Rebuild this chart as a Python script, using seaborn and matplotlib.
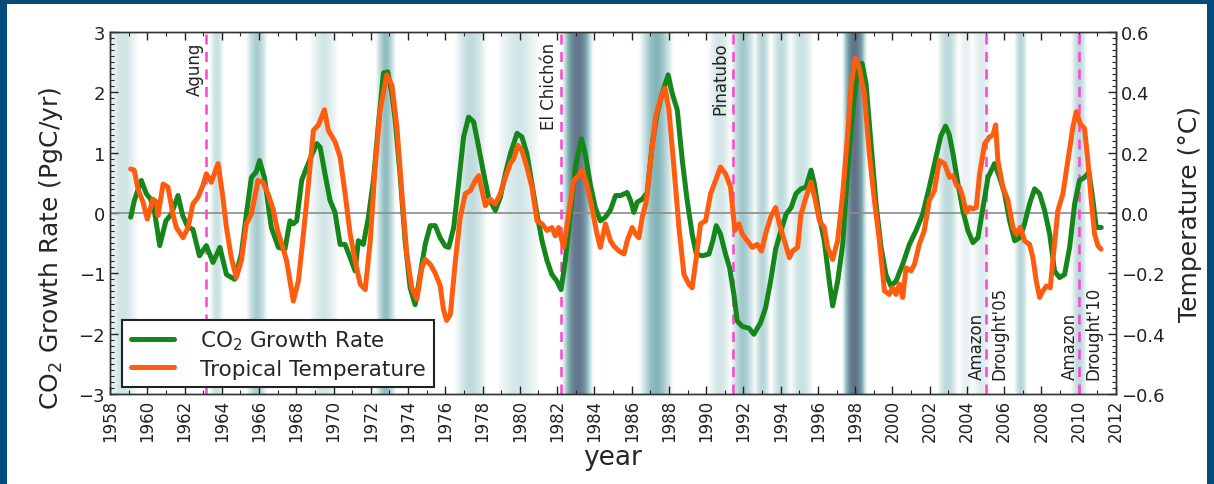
import numpy as np
import pandas as pd
import matplotlib
matplotlib.use("Agg")
import matplotlib.pyplot as plt
import seaborn as sns
from matplotlib.colors import LinearSegmentedColormap
from matplotlib.patches import Rectangle
from matplotlib.ticker import MultipleLocator
from matplotlib.lines import Line2D
import matplotlib.transforms as mtransforms

# ---------------- data ----------------
co2_years = [1959.11, 1959.3, 1959.68, 1959.95, 1960.18, 1960.4, 1960.67, 1961.0, 1961.29, 1961.65,
             1961.9, 1962.19, 1962.45, 1962.8, 1963.17, 1963.53, 1963.9, 1964.25, 1964.69, 1965.05,
             1965.32, 1965.59, 1965.85, 1966.03, 1966.3, 1966.66, 1967.04, 1967.39, 1967.66, 1967.84,
             1968.02, 1968.29, 1968.56, 1968.83, 1969.1, 1969.28, 1969.54, 1969.81, 1970.08, 1970.35,
             1970.62, 1970.89, 1971.16, 1971.33, 1971.6, 1971.87, 1972.14, 1972.41, 1972.68, 1972.91,
             1973.13, 1973.31, 1973.58, 1973.84, 1974.11, 1974.38, 1974.65, 1974.92, 1975.19, 1975.46,
             1975.72, 1976.0, 1976.18, 1976.45, 1976.71, 1976.98, 1977.25, 1977.52, 1977.79, 1978.06,
             1978.32, 1978.68, 1978.95, 1979.22, 1979.49, 1979.85, 1980.11, 1980.38, 1980.65, 1980.92,
             1981.19, 1981.46, 1981.72, 1981.99, 1982.21, 1982.44, 1982.71, 1982.98, 1983.3, 1983.51,
             1983.78, 1984.05, 1984.32, 1984.59, 1984.86, 1985.14, 1985.41, 1985.76, 1985.94, 1986.12,
             1986.3, 1986.57, 1986.84, 1987.11, 1987.37, 1987.64, 1987.96, 1988.18, 1988.45, 1988.72,
             1988.98, 1989.25, 1989.47, 1989.79, 1990.15, 1990.36, 1990.54, 1990.77, 1991.04, 1991.26,
             1991.49, 1991.67, 1991.94, 1992.3, 1992.56, 1992.92, 1993.19, 1993.46, 1993.73, 1994.02,
             1994.29, 1994.56, 1994.82, 1995.09, 1995.36, 1995.63, 1995.81, 1996.08, 1996.34, 1996.61,
             1996.79, 1997.06, 1997.33, 1997.6, 1997.87, 1998.13, 1998.37, 1998.58, 1998.85, 1999.12,
             1999.39, 1999.65, 1999.92, 2000.19, 2000.55, 2000.91, 2001.27, 2001.62, 2001.98, 2002.34,
             2002.6, 2002.85, 2003.05, 2003.25, 2003.52, 2003.78, 2004.05, 2004.32, 2004.59, 2004.86,
             2005.13, 2005.48, 2005.75, 2006.02, 2006.29, 2006.56, 2006.83, 2007.09, 2007.36, 2007.63,
             2007.9, 2008.17, 2008.44, 2008.7, 2008.97, 2009.24, 2009.51, 2009.78, 2010.04, 2010.31,
             2010.55, 2010.76, 2010.94, 2011.21]
co2_rate = [-0.07, 0.2, 0.54, 0.32, 0.23, 0.0, -0.54, -0.13, -0.02, 0.29,
            -0.04, -0.24, -0.27, -0.71, -0.54, -0.82, -0.57, -1.02, -1.10, -0.68,
            -0.02, 0.59, 0.68, 0.87, 0.57, -0.24, -0.57, -0.60, -0.13, -0.18,
            -0.13, 0.54, 0.76, 0.96, 1.15, 1.09, 0.65, 0.21, 0.01, -0.52,
            -0.52, -0.74, -0.96, -0.46, -0.52, -0.07, 0.54, 1.48, 2.32, 2.34,
            1.98, 1.54, 0.59, -0.46, -1.24, -1.52, -1.02, -0.52, -0.21, -0.21,
            -0.41, -0.55, -0.57, -0.24, 0.48, 1.26, 1.59, 1.51, 1.09, 0.65,
            0.26, 0.04, 0.26, 0.65, 0.98, 1.32, 1.26, 0.98, 0.48, -0.02,
            -0.46, -0.79, -1.02, -1.13, -1.27, -0.79, -0.02, 0.76, 1.23, 0.98,
            0.48, 0.09, -0.13, -0.07, 0.05, 0.29, 0.29, 0.34, 0.21, 0.01,
            0.18, 0.23, 0.34, 1.15, 1.65, 1.98, 2.29, 1.98, 1.71, 0.87,
            0.21, -0.35, -0.68, -0.71, -0.68, -0.46, -0.21, -0.35, -0.68, -0.91,
            -1.35, -1.79, -1.88, -1.91, -2.01, -1.82, -1.57, -1.13, -0.60, -0.29,
            -0.02, 0.09, 0.32, 0.40, 0.43, 0.71, 0.48, -0.07, -0.46, -1.13,
            -1.54, -1.13, -0.52, 0.71, 1.71, 2.37, 2.48, 2.15, 1.15, 0.15,
            -0.57, -1.02, -1.21, -1.13, -0.85, -0.52, -0.29, -0.02, 0.43, 0.93,
            1.28, 1.44, 1.30, 0.98, 0.48, 0.04, -0.29, -0.49, -0.41, 0.09,
            0.59, 0.82, 0.59, 0.32, -0.13, -0.46, -0.41, -0.18, 0.15, 0.40,
            0.32, 0.04, -0.35, -0.96, -1.07, -1.02, -0.57, 0.15, 0.54, 0.59,
            0.68, 0.21, -0.24, -0.24]

temp_years = [1959.11, 1959.3, 1959.5, 1959.77, 1960.0, 1960.31, 1960.5, 1960.58, 1960.85, 1961.11,
              1961.38, 1961.56, 1961.92, 1962.19, 1962.45, 1962.72, 1962.99, 1963.17, 1963.44, 1963.8,
              1964.06, 1964.25, 1964.51, 1964.78, 1965.05, 1965.32, 1965.59, 1965.94, 1966.21, 1966.48,
              1966.75, 1967.0, 1967.12, 1967.48, 1967.84, 1968.11, 1968.38, 1968.65, 1968.92, 1969.19,
              1969.51, 1969.72, 1970.08, 1970.35, 1970.62, 1970.89, 1971.16, 1971.43, 1971.7, 1971.97,
              1972.23, 1972.5, 1972.86, 1973.13, 1973.4, 1973.67, 1973.93, 1974.2, 1974.47, 1974.74,
              1974.92, 1975.19, 1975.46, 1975.72, 1975.9, 1976.07, 1976.27, 1976.54, 1976.8, 1977.07,
              1977.34, 1977.61, 1977.79, 1977.97, 1978.15, 1978.41, 1978.68, 1978.95, 1979.22, 1979.49,
              1979.67, 1979.9, 1980.11, 1980.38, 1980.65, 1980.92, 1981.19, 1981.46, 1981.72, 1981.9,
              1982.08, 1982.35, 1982.62, 1982.89, 1983.16, 1983.33, 1983.6, 1983.87, 1984.14, 1984.32,
              1984.59, 1984.86, 1985.05, 1985.32, 1985.59, 1985.76, 1986.03, 1986.21, 1986.39, 1986.57,
              1986.78, 1987.02, 1987.29, 1987.55, 1987.79, 1988.0, 1988.27, 1988.54, 1988.81, 1989.07,
              1989.25, 1989.47, 1989.7, 1989.97, 1990.24, 1990.51, 1990.77, 1991.04, 1991.31, 1991.54,
              1991.76, 1991.94, 1992.21, 1992.48, 1992.74, 1992.97, 1993.19, 1993.46, 1993.73, 1993.93,
              1994.2, 1994.47, 1994.64, 1994.91, 1995.09, 1995.36, 1995.63, 1995.86, 1996.08, 1996.34,
              1996.52, 1996.79, 1997.06, 1997.33, 1997.6, 1997.78, 1998.01, 1998.22, 1998.49, 1998.76,
              1999.03, 1999.3, 1999.57, 1999.83, 2000.01, 2000.19, 2000.37, 2000.55, 2000.73, 2001.0,
              2001.18, 2001.44, 2001.71, 2001.98, 2002.25, 2002.52, 2002.79, 2003.07, 2003.25, 2003.43,
              2003.6, 2003.78, 2003.96, 2004.14, 2004.32, 2004.5, 2004.68, 2004.95, 2005.21, 2005.39,
              2005.54, 2005.66, 2005.93, 2006.2, 2006.47, 2006.65, 2006.86, 2007.09, 2007.36, 2007.54,
              2007.72, 2007.9, 2008.08, 2008.26, 2008.47, 2008.61, 2008.88, 2009.15, 2009.42, 2009.69,
              2009.87, 2010.08, 2010.31, 2010.49, 2010.67, 2010.85, 2011.03, 2011.2]
temp_anom = [0.146, 0.142, 0.08, 0.036, -0.02, 0.046, 0.036, -0.008, 0.096, 0.086,
             -0.004, -0.048, -0.082, -0.048, 0.03, 0.052, 0.092, 0.13, 0.102, 0.164,
             0.052, -0.048, -0.148, -0.214, -0.158, -0.036, -0.004, 0.108, 0.102, 0.064,
             0.014, -0.06, -0.082, -0.158, -0.292, -0.226, -0.07, 0.096, 0.274, 0.292,
             0.342, 0.274, 0.236, 0.186, 0.064, -0.07, -0.158, -0.236, -0.254, -0.092,
             0.152, 0.342, 0.458, 0.424, 0.286, 0.064, -0.136, -0.248, -0.286, -0.182,
             -0.154, -0.17, -0.2, -0.24, -0.32, -0.356, -0.336, -0.158, -0.014, 0.064,
             0.074, 0.108, 0.124, 0.074, 0.024, 0.046, 0.03, 0.064, 0.118, 0.164,
             0.18, 0.224, 0.208, 0.152, 0.086, -0.026, -0.036, -0.058, -0.048, -0.076,
             -0.048, -0.114, -0.004, 0.108, 0.124, 0.142, 0.096, 0.018, -0.07, -0.114,
             -0.036, -0.092, -0.11, -0.126, -0.136, -0.092, -0.048, -0.07, -0.082, -0.014,
             0.036, 0.174, 0.318, 0.38, 0.414, 0.342, 0.152, -0.048, -0.204, -0.236,
             -0.248, -0.148, -0.036, -0.026, 0.064, 0.108, 0.152, 0.13, 0.086, -0.058,
             -0.036, -0.07, -0.092, -0.114, -0.104, -0.126, -0.07, -0.014, 0.018, -0.036,
             -0.092, -0.148, -0.126, -0.114, -0.004, 0.052, 0.102, 0.042, -0.026, -0.048,
             -0.114, -0.154, -0.092, 0.064, 0.264, 0.42, 0.514, 0.48, 0.396, 0.196,
             0.042, -0.092, -0.258, -0.27, -0.248, -0.27, -0.236, -0.28, -0.182, -0.192,
             -0.17, -0.104, -0.058, 0.042, 0.074, 0.174, 0.164, 0.118, 0.124, 0.092,
             0.086, 0.052, 0.002, 0.018, 0.014, 0.018, 0.13, 0.23, 0.252, 0.258,
             0.292, 0.174, 0.086, 0.042, -0.048, -0.07, -0.048, -0.092, -0.104, -0.148,
             -0.226, -0.28, -0.258, -0.242, -0.248, -0.158, 0.008, 0.064, 0.174, 0.286,
             0.336, 0.296, 0.28, 0.174, 0.042, -0.07, -0.108, -0.12]

event_labels = ["Agung", "El Chichón", "Pinatubo", "Amazon\nDrought'05", "Amazon\nDrought'10"]
event_years = [1963.17, 1982.22, 1991.42, 2005.0, 2010.0]

# El Nino shading periods (start, end, relative strength)
enso_start = [1957.9, 1963.35, 1965.3, 1968.7, 1972.25, 1976.5, 1978.8, 1982.25, 1986.4, 1990.1,
              1991.3, 1992.6, 1993.5, 1994.5, 1997.3, 2002.4, 2003.6, 2004.3, 2006.55, 2009.6]
enso_end = [1959.5, 1964.1, 1966.45, 1970.25, 1973.35, 1978.25, 1981.05, 1983.95, 1988.25, 1991.35,
            1992.65, 1993.45, 1994.55, 1995.75, 1998.65, 2003.55, 2004.3, 2005.3, 2007.25, 2010.45]
enso_strength = [0.32, 0.35, 0.5, 0.3, 0.58, 0.4, 0.3, 0.97, 0.62, 0.3,
                 0.52, 0.45, 0.4, 0.35, 1.0, 0.42, 0.2, 0.25, 0.45, 0.42]

# ---------------- style ----------------
sns.set_style("ticks")
plt.rcParams['font.family'] = ['DejaVu Sans']
plt.rcParams['axes.linewidth'] = 1.0

W, H = 1214, 485
fig = plt.figure(figsize=(W / 100, H / 100), dpi=100, facecolor='#024b7a')
fig.add_artist(Rectangle((7 / W, 0), (W - 14) / W, (H - 5) / H, transform=fig.transFigure,
                         facecolor='white', edgecolor='none', zorder=-10))

ax = fig.add_axes([110 / W, 90 / H, 1006 / W, 362 / H])
ax.set_facecolor('white')

# shaded ENSO bands as a smooth horizontal intensity image
xg = np.linspace(1958, 2012, 3000)
inten = np.zeros_like(xg)
for s, e, k in zip(enso_start, enso_end, enso_strength):
    m = (xg > s) & (xg < e)
    prof = np.sin(np.pi * (xg[m] - s) / (e - s)) ** 0.8
    inten[m] = np.maximum(inten[m], k * prof)
cmap = LinearSegmentedColormap.from_list(
    "enso", [(0.0, '#ffffff'), (0.2, '#e6f1f1'), (0.45, '#b7d6d8'),
             (0.65, '#7eb0b4'), (0.82, '#728f9c'), (1.0, '#5f7289')])
ax.imshow(inten[None, :], extent=(1958, 2012, -3, 3), aspect='auto', cmap=cmap,
          vmin=0, vmax=1, interpolation='bilinear', zorder=0)

ax.axhline(0, color='#8c8c8c', lw=1.2, zorder=1)

for yr in event_years:
    ax.axvline(yr, color='#ff44cc', lw=1.8, ls=(0, (4, 3)), zorder=2)

green = '#15861a'
orange = '#ff5c0f'
sns.lineplot(x=co2_years, y=co2_rate, ax=ax, color=green, lw=3.6, zorder=3, legend=False)

ax.set_xlim(1958, 2012)
ax.set_ylim(-3, 3)
ax.set_xticks(np.arange(1958, 2013, 2))
ax.set_xticklabels([str(v) for v in range(1958, 2013, 2)], rotation=90, fontsize=12)
ax.xaxis.set_minor_locator(MultipleLocator(1))
ax.set_yticks(np.arange(-3, 4, 1))
ax.yaxis.set_minor_locator(MultipleLocator(0.1))
ax.tick_params(axis='both', which='major', direction='in', length=6, width=1,
               top=True, bottom=True, colors='#222222')
ax.tick_params(axis='y', which='major', labelsize=13)
ax.tick_params(axis='x', which='major', labelsize=12)
ax.tick_params(axis='y', which='both', right=False)
ax.tick_params(axis='both', which='minor', direction='in', length=3, width=0.8, top=True)
ax.tick_params(axis='y', which='minor', right=False)
for sp in ax.spines.values():
    sp.set_visible(True)
    sp.set_color('#333333')
ax.set_xlabel('year', fontsize=19, labelpad=2)
ax.set_ylabel('CO$_2$ Growth Rate (PgC/yr)', fontsize=18)
ax.yaxis.set_label_coords(-0.045, 0.405)

ax2 = ax.twinx()
sns.lineplot(x=temp_years, y=temp_anom, ax=ax2, color=orange, lw=3.6, zorder=4, legend=False)
ax2.set_ylim(-0.6, 0.6)
ax2.set_yticks(np.round(np.arange(-0.6, 0.61, 0.2), 1))
ax2.yaxis.set_minor_locator(MultipleLocator(0.02))
ax2.tick_params(axis='y', which='major', direction='in', length=6, width=1, labelsize=13,
                colors='#222222')
ax2.tick_params(axis='y', which='minor', direction='in', length=3, width=0.8)
ax2.set_ylabel('Temperature (°C)', fontsize=18, labelpad=10)
for sp in ax2.spines.values():
    sp.set_color('#333333')

# event annotations
trans = mtransforms.blended_transform_factory(ax.transData, ax.transAxes)
for lab, yr in zip(event_labels, event_years):
    if "\n" in lab:
        ax.annotate(lab, xy=(yr, 0), xycoords=trans, xytext=(2, 11), textcoords='offset points',
                    rotation=90, ha='center', va='bottom', multialignment='left',
                    fontsize=12, linespacing=1.35, color='#222222', zorder=6)
    else:
        ax.annotate(lab, xy=(yr, 1), xycoords=trans, xytext=(-2, -7), textcoords='offset points',
                    rotation=90, ha='right', va='top', fontsize=12, color='#222222', zorder=6)

handles = [Line2D([], [], color=green, lw=3.6), Line2D([], [], color=orange, lw=3.6)]
leg = ax2.legend(handles, ['CO$_2$ Growth Rate', 'Tropical Temperature'], loc='lower left',
                 bbox_to_anchor=(0.012, 0.019), borderaxespad=0, fontsize=15.5,
                 handlelength=2.0, handletextpad=1.2, labelspacing=0.3,
                 fancybox=False, framealpha=1, edgecolor='#222222', borderpad=0.4)
leg.get_frame().set_linewidth(1.5)
leg.set_zorder(10)

fig.savefig('out.png', dpi=100, facecolor=fig.get_facecolor())
